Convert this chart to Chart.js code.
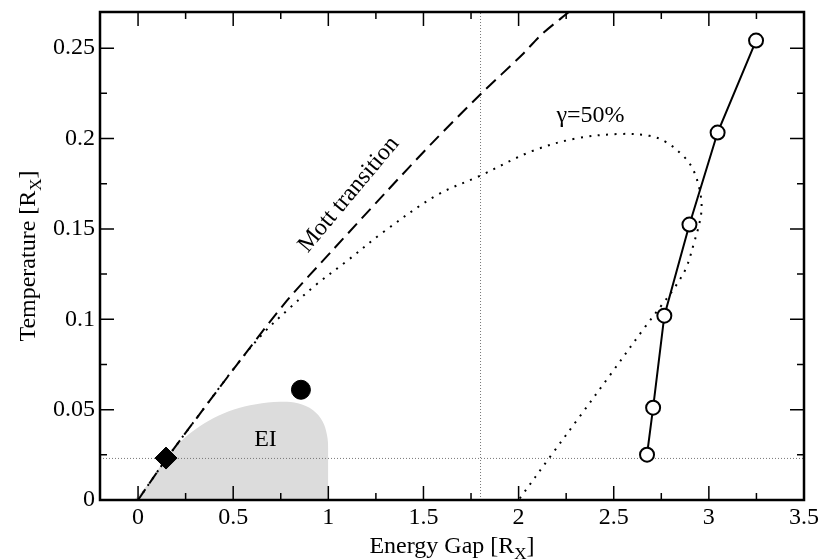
<!DOCTYPE html>
<html>
<head>
<meta charset="utf-8">
<script src="https://cdn.jsdelivr.net/npm/chart.js@4/dist/chart.umd.min.js"></script>
<style>
  html, body { margin: 0; padding: 0; background: #fff; }
</style>
</head>
<body>
<canvas id="chart" width="823" height="560"></canvas>
<script>
// tick labels
const xTicks = [0, 0.5, 1, 1.5, 2, 2.5, 3, 3.5];
const xTickLabels = ['0', '0.5', '1', '1.5', '2', '2.5', '3', '3.5'];
const yTicks = [0, 0.05, 0.1, 0.15, 0.2, 0.25];
const yTickLabels = ['0', '0.05', '0.1', '0.15', '0.2', '0.25'];

// Mott transition (dashed)
const mottX = [0, 0.147, 0.32, 0.535, 0.78, 1.025, 1.3, 1.55, 1.8, 2.02, 2.12, 2.27];
const mottY = [0, 0.0225, 0.047, 0.077, 0.11, 0.1385, 0.17, 0.198, 0.2245, 0.2465, 0.2575, 0.2705];

// gamma = 50% (dotted)
const gammaX = [0, 0.147, 0.32, 0.535, 0.66, 0.8, 0.94, 1.095, 1.286, 1.568, 1.8, 2.07, 2.3, 2.53,
  2.688, 2.775, 2.863, 2.915, 2.95, 2.962, 2.95, 2.924, 2.88, 2.82, 2.757, 2.665, 2.48, 2.32, 2.18, 2.0];
const gammaY = [0, 0.0225, 0.047, 0.077, 0.0925, 0.1065, 0.1195, 0.132, 0.148, 0.1685, 0.1795, 0.193, 0.2, 0.2025,
  0.2015, 0.198, 0.1906, 0.1833, 0.1723, 0.162, 0.153, 0.143, 0.1283, 0.1175, 0.1085, 0.0958, 0.069, 0.046, 0.026, 0];

// EI region (shaded)
const eiX = [-0.02, 0.07, 0.147, 0.22, 0.3, 0.4, 0.5, 0.62, 0.745, 0.84, 0.92, 0.97, 0.993, 1.0, 1.0];
const eiY = [0, 0.011, 0.0235, 0.032, 0.039, 0.0455, 0.05, 0.053, 0.0543, 0.0535, 0.0497, 0.0435, 0.036, 0.0275, 0];

// open circles
const openX = [2.675, 2.707, 2.766, 2.898, 3.046, 3.248];
const openY = [0.0251, 0.0511, 0.102, 0.1524, 0.2033, 0.2542];

// single markers
const dotX = [0.856];
const dotY = [0.061];
const diamondX = [0.147];
const diamondY = [0.0232];

// reference lines
const refX = 1.8;
const refY = 0.023;

const xMin = -0.2, xMax = 3.5, yMin = 0, yMax = 0.27;
const serif = '"Liberation Serif", "Times New Roman", serif';

function pairs(xs, ys) {
  return xs.map((v, i) => ({ x: v, y: ys[i] }));
}

// 枠と内向き目盛り
const frameTicks = {
  id: 'frameTicks',
  afterDatasetsDraw(chart) {
    const { ctx, chartArea: a, scales: { x, y } } = chart;
    ctx.save();
    ctx.strokeStyle = '#000';
    ctx.lineWidth = 1.5;
    function mids(arr) {
      const out = [];
      for (let i = 0; i < arr.length - 1; i++) out.push((arr[i] + arr[i + 1]) / 2);
      return out;
    }
    ctx.beginPath();
    xTicks.forEach(v => {
      const p = x.getPixelForValue(v);
      ctx.moveTo(p, a.bottom); ctx.lineTo(p, a.bottom - 14);
      ctx.moveTo(p, a.top); ctx.lineTo(p, a.top + 14);
    });
    mids(xTicks).forEach(v => {
      const p = x.getPixelForValue(v);
      ctx.moveTo(p, a.bottom); ctx.lineTo(p, a.bottom - 7);
      ctx.moveTo(p, a.top); ctx.lineTo(p, a.top + 7);
    });
    yTicks.forEach(v => {
      const p = y.getPixelForValue(v);
      ctx.moveTo(a.left, p); ctx.lineTo(a.left + 14, p);
      ctx.moveTo(a.right, p); ctx.lineTo(a.right - 14, p);
    });
    mids(yTicks).forEach(v => {
      const p = y.getPixelForValue(v);
      ctx.moveTo(a.left, p); ctx.lineTo(a.left + 7, p);
      ctx.moveTo(a.right, p); ctx.lineTo(a.right - 7, p);
    });
    ctx.stroke();
    ctx.lineWidth = 2.5;
    ctx.strokeRect(a.left, a.top, a.right - a.left, a.bottom - a.top);
    ctx.restore();
  }
};

// 添字付きテキスト
function drawSubText(ctx, main, sub, tail, cx, baseY) {
  ctx.font = '24px ' + serif;
  const w1 = ctx.measureText(main).width;
  const w3 = ctx.measureText(tail).width;
  ctx.font = '17px ' + serif;
  const w2 = ctx.measureText(sub).width;
  let sx = cx - (w1 + w2 + w3) / 2;
  ctx.textAlign = 'left';
  ctx.textBaseline = 'alphabetic';
  ctx.font = '24px ' + serif;
  ctx.fillText(main, sx, baseY);
  ctx.font = '17px ' + serif;
  ctx.fillText(sub, sx + w1, baseY + 6);
  ctx.font = '24px ' + serif;
  ctx.fillText(tail, sx + w1 + w2, baseY);
}

// 注記と軸タイトル
const labels = {
  id: 'labels',
  afterDraw(chart) {
    const { ctx, chartArea: a, scales: { x, y } } = chart;
    ctx.save();
    ctx.fillStyle = '#000';
    ctx.font = '24px ' + serif;
    ctx.textAlign = 'center';
    ctx.textBaseline = 'middle';
    ctx.fillText('EI', x.getPixelForValue(0.67), y.getPixelForValue(0.0335));
    ctx.fillText('γ=50%', x.getPixelForValue(2.378), y.getPixelForValue(0.2128));
    ctx.save();
    ctx.translate(x.getPixelForValue(1.108), y.getPixelForValue(0.169));
    ctx.rotate(-50 * Math.PI / 180);
    ctx.fillText('Mott transition', 0, 0);
    ctx.restore();

    drawSubText(ctx, 'Energy Gap [R', 'X', ']', (a.left + a.right) / 2, 553);
    ctx.save();
    ctx.translate(35, (a.top + a.bottom) / 2);
    ctx.rotate(-Math.PI / 2);
    drawSubText(ctx, 'Temperature [R', 'X', ']', 0, 0);
    ctx.restore();
    ctx.restore();
  }
};

function noPad(s) {
  s.paddingTop = 0;
  s.paddingBottom = 0;
  s.paddingLeft = 0;
  s.paddingRight = 0;
}

const ctx = document.getElementById('chart').getContext('2d');
new Chart(ctx, {
  type: 'scatter',
  data: {
    datasets: [
      {
        label: 'diamond',
        data: pairs(diamondX, diamondY),
        pointStyle: 'rectRot',
        pointRadius: 11,
        pointBackgroundColor: '#000',
        pointBorderColor: '#000',
        pointBorderWidth: 1,
        order: 1
      },
      {
        label: 'open',
        data: pairs(openX, openY),
        showLine: true,
        borderColor: '#000',
        borderWidth: 2,
        tension: 0,
        pointRadius: 7,
        pointBackgroundColor: '#fff',
        pointBorderColor: '#000',
        pointBorderWidth: 2,
        order: 2
      },
      {
        label: 'dot',
        data: pairs(dotX, dotY),
        pointRadius: 9.5,
        pointBackgroundColor: '#000',
        pointBorderColor: '#000',
        pointBorderWidth: 1,
        order: 3
      },
      {
        label: 'Mott',
        data: pairs(mottX, mottY),
        showLine: true,
        borderColor: '#000',
        borderWidth: 2,
        borderDash: [13, 7],
        tension: 0.3,
        pointRadius: 0,
        order: 4
      },
      {
        label: 'gamma',
        data: pairs(gammaX, gammaY),
        showLine: true,
        borderColor: '#000',
        borderWidth: 2,
        borderDash: [2, 6.5],
        tension: 0.35,
        pointRadius: 0,
        order: 5
      },
      {
        label: 'refV',
        data: [{ x: refX, y: yMin }, { x: refX, y: yMax }],
        showLine: true,
        borderColor: '#777',
        borderWidth: 1,
        borderDash: [1, 2],
        pointRadius: 0,
        order: 6
      },
      {
        label: 'refH',
        data: [{ x: xMin, y: refY }, { x: xMax, y: refY }],
        showLine: true,
        borderColor: '#777',
        borderWidth: 1,
        borderDash: [1, 2],
        pointRadius: 0,
        order: 7
      },
      {
        label: 'EI',
        data: pairs(eiX, eiY),
        showLine: true,
        borderWidth: 0,
        borderColor: 'rgba(0,0,0,0)',
        backgroundColor: '#dcdcdc',
        fill: 'origin',
        tension: 0.35,
        pointRadius: 0,
        order: 10
      }
    ]
  },
  options: {
    responsive: false,
    animation: false,
    events: [],
    layout: { padding: { left: 0, right: 19, top: 9, bottom: 0 } },
    plugins: {
      legend: { display: false },
      tooltip: { enabled: false }
    },
    scales: {
      x: {
        type: 'linear',
        min: xMin,
        max: xMax,
        grid: { display: false, drawTicks: false },
        border: { display: false },
        afterBuildTicks: s => { s.ticks = xTicks.map(v => ({ value: v })); },
        afterFit: s => { s.height = 60; noPad(s); },
        ticks: {
          padding: 3,
          color: '#000',
          font: { family: serif, size: 24 },
          callback: v => xTickLabels[xTicks.indexOf(v)]
        }
      },
      y: {
        type: 'linear',
        min: yMin,
        max: yMax,
        grid: { display: false, drawTicks: false },
        border: { display: false },
        afterBuildTicks: s => { s.ticks = yTicks.map(v => ({ value: v })); },
        afterFit: s => { s.width = 100; noPad(s); },
        ticks: {
          padding: 5,
          color: '#000',
          font: { family: serif, size: 24 },
          callback: v => yTickLabels[yTicks.indexOf(v)]
        }
      }
    }
  },
  plugins: [frameTicks, labels]
});
</script>
</body>
</html>
